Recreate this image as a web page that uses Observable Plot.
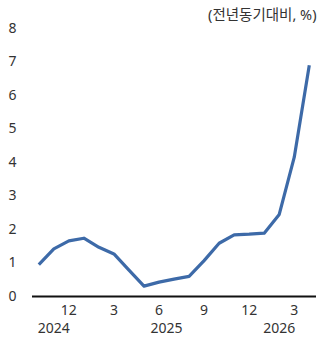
<!DOCTYPE html>
<html>
<head>
<meta charset="utf-8">
<script src="https://cdn.jsdelivr.net/npm/d3@7"></script>
<script src="https://cdn.jsdelivr.net/npm/@observablehq/plot@0.6"></script>
<style>
  html, body { margin: 0; padding: 0; background: #fff; }
  #chart { width: 321px; height: 337px; }
</style>
</head>
<body>
<div id="chart"></div>
<script>
// Monthly year-on-year rate, Oct 2024 – Apr 2026
const months = ["2024-10","2024-11","2024-12","2025-01","2025-02","2025-03","2025-04",
                "2025-05","2025-06","2025-07","2025-08","2025-09","2025-10","2025-11",
                "2025-12","2026-01","2026-02","2026-03","2026-04"];
const values = [0.95, 1.42, 1.66, 1.74, 1.47, 1.27, 0.79, 0.31, 0.43, 0.52, 0.60,
                1.07, 1.59, 1.84, 1.86, 1.89, 2.45, 4.16, 6.90];

// Month tick labels (positions as month indices) and year labels
const monthTicks = [2, 5, 8, 11, 14, 17];
const monthTickLabels = ["12", "3", "6", "9", "12", "3"];
const yearTicks = [1, 8.5, 16];
const yearLabels = ["2024", "2025", "2026"];
const yTicks = [0, 1, 2, 3, 4, 5, 6, 7, 8];
const unitLabel = "(전년동기대비, %)";

const data = months.map((m, i) => ({i, month: m, value: values[i]}));

const font = "'Noto Sans', 'Noto Sans CJK KR', sans-serif";
const textColor = "#333";

const chart = Plot.plot({
  width: 321,
  height: 337,
  marginTop: 28,
  marginBottom: 41,
  marginLeft: 32,
  marginRight: 5,
  style: {fontFamily: font, fontSize: "14px", color: textColor, background: "#fff"},
  x: {type: "linear", domain: [-0.42, 18.48]},
  y: {domain: [0, 8]},
  marks: [
    Plot.axisY({ticks: yTicks, tickSize: 0, tickPadding: 16, label: null,
                fontSize: 14, fill: textColor}),
    Plot.axisX({ticks: monthTicks, tickSize: 0, tickPadding: 9, label: null,
                tickFormat: (d) => monthTickLabels[monthTicks.indexOf(d)],
                fontSize: 14, fill: textColor}),
    Plot.axisX({ticks: yearTicks, tickSize: 0, tickPadding: 27, label: null,
                tickFormat: (d) => yearLabels[yearTicks.indexOf(d)],
                fontSize: 14, fill: textColor}),
    Plot.ruleY([0], {stroke: "#111", strokeWidth: 2}),
    Plot.line(data, {x: "i", y: "value", stroke: "#3d6aa8", strokeWidth: 3.2,
                     strokeLinejoin: "round", strokeLinecap: "butt"}),
    Plot.text([unitLabel], {frameAnchor: "top-right", text: (d) => d, dy: -13,
                            textAnchor: "end", lineAnchor: "middle",
                            fontSize: 14.5, fill: textColor})
  ]
});

document.getElementById("chart").appendChild(chart);
</script>
</body>
</html>
